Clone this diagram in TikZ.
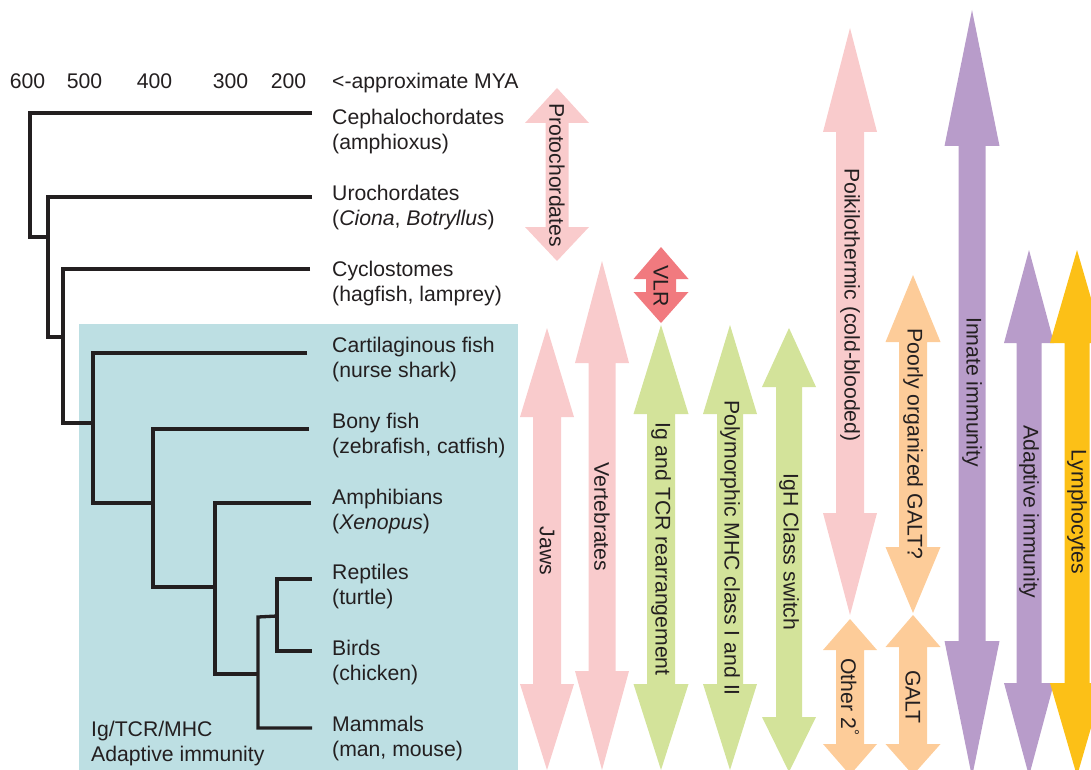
\documentclass[tikz,border=0pt]{standalone}
\usepackage{fontspec}
\setmainfont{Liberation Sans}
\definecolor{treeline}{HTML}{231F20}
\definecolor{boxblue}{HTML}{BDDFE3}
\definecolor{pinkbar}{HTML}{F9CBCC}
\definecolor{redbar}{HTML}{F17A7F}
\definecolor{greenbar}{HTML}{D3E39A}
\definecolor{orangebar}{HTML}{FDCC99}
\definecolor{purplebar}{HTML}{B89CCA}
\definecolor{yellowbar}{HTML}{FCC017}
% #1 colour, #2 x, #3 half head, #4 half shaft, #5 top tip, #6 top base, #7 bottom base, #8 bottom tip
\newcommand{\twohead}[8]{%
  \fill[#1] (#2,#5) -- ({#2+#3},#6) -- ({#2+#4},#6) -- ({#2+#4},#7) -- ({#2+#3},#7)
    -- (#2,#8) -- ({#2-#3},#7) -- ({#2-#4},#7) -- ({#2-#4},#6) -- ({#2-#3},#6) -- cycle;}
\begin{document}
\begin{tikzpicture}[x=1pt,y=-1pt,
  tree/.style={line width=3.3pt,draw=treeline},
  taxon/.style={anchor=base west,inner sep=0pt,text=treeline},
  barlabel/.style={rotate=-90,inner sep=0pt,text=treeline}]
\fontsize{21.2}{25.5}\selectfont
\useasboundingbox (0,0) rectangle (1091,770);
\clip (0,0) rectangle (1091,770);

\fill[boxblue] (79,324) rectangle (517.5,775);

% time scale
\node[taxon,anchor=base] (t600) at (27.5,89) {600};
\node[taxon,anchor=base] (t500) at (84.5,89) {500};
\node[taxon,anchor=base] (t400) at (154.5,89) {400};
\node[taxon,anchor=base] (t300) at (230.5,89) {300};
\node[taxon,anchor=base] (t200) at (288.5,89) {200};
\node[taxon] (mya) at (332,88.5) {<-approximate MYA};

% taxa
\foreach \name/\common [count=\i from 0] in {
  Cephalochordates/{(amphioxus)},
  Urochordates/{(\textit{Ciona}, \textit{Botryllus})},
  Cyclostomes/{(hagfish, lamprey)},
  Cartilaginous fish/{(nurse shark)},
  Bony fish/{(zebrafish, catfish)},
  Amphibians/{(\textit{Xenopus})},
  Reptiles/{(turtle)},
  Birds/{(chicken)},
  Mammals/{(man, mouse)}}{
  \node[taxon] (taxon\i) at (332,{125+75.8*\i}) {\name};
  \node[taxon] (common\i) at (332,{150+75.8*\i}) {\common};
}

% tree
\draw[tree] (312,113) -- (30,113) -- (30,237) -- (48,237);
\draw[tree] (312,197) -- (48,197) -- (48,337) -- (63,337);
\draw[tree] (310,269) -- (63,269) -- (63,423) -- (93,423);
\draw[tree] (307,353) -- (93,353) -- (93,503) -- (153,503);
\draw[tree] (309,429) -- (153,429) -- (153,587) -- (215,587);
\draw[tree] (311,503) -- (215,503) -- (215,674) -- (258,674);
\draw[tree] (277,616) -- (258,617) -- (258,728) -- (312,728);
\draw[tree] (312,579) -- (277,579) -- (277,651) -- (312,651);

\node[taxon] (igtcr) at (91,736) {Ig/TCR/MHC};
\node[taxon] (adapt) at (91,761.5) {Adaptive immunity};

% bars
\twohead{pinkbar}{557}{32}{11.5}{88}{123}{227}{261}
\twohead{redbar}{661}{27.5}{15}{247}{279}{292}{323}
\twohead{pinkbar}{547}{27}{14}{328}{417}{684}{770}
\twohead{pinkbar}{602}{27}{13.5}{261}{363}{671}{770}
\twohead{greenbar}{661}{27.5}{14}{325}{414}{684}{770}
\twohead{greenbar}{730}{27}{13}{325}{414}{684}{770}
\twohead{greenbar}{789}{27}{13}{328}{387}{717}{772}
\twohead{pinkbar}{850}{27}{14}{28}{132}{513}{615}
\twohead{orangebar}{913}{27.5}{14}{275}{342}{547}{613}
\twohead{orangebar}{850}{27}{14}{619}{650}{744}{775}
\twohead{orangebar}{913}{27.5}{14}{615}{647}{744}{775}
\twohead{purplebar}{972}{27.5}{13.5}{10}{146}{641}{777}
\twohead{purplebar}{1029}{25}{12.5}{250}{343}{683}{776}
\twohead{yellowbar}{1077}{27}{12.5}{250}{343}{683}{776}

\node[barlabel] (proto) at (557,175) {Protochordates};
\node[barlabel] (vlr) at (661,286) {VLR};
\node[barlabel] (jaws) at (547,551) {Jaws};
\node[barlabel] (vert) at (602,517) {Vertebrates};
\node[barlabel] (igre) at (661,549) {Ig and TCR rearrangement};
\node[barlabel] (mhc) at (730,548) {Polymorphic MHC class I and II};
\node[barlabel] (igh) at (789,552) {IgH Class switch};
\node[barlabel] (poik) at (850,305) {Poikilothermic (cold-blooded)};
\node[barlabel] (poor) at (913,444) {Poorly organized GALT?};
\node[barlabel] (other) at (850,697) {Other 2\textsuperscript{°}};
\node[barlabel] (galt) at (913,697) {GALT};
\node[barlabel] (innate) at (972,392) {Innate immunity};
\node[barlabel] (adaptive) at (1029,512) {Adaptive immunity};
\node[barlabel] (lymph) at (1077,512) {Lymphocytes};
\end{tikzpicture}
\end{document}
